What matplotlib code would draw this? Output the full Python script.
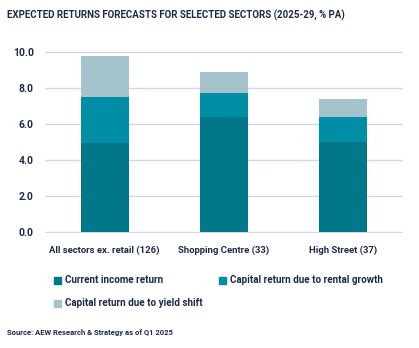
import matplotlib
matplotlib.use("Agg")
import numpy as np
from matplotlib import pyplot as plt

# expected returns by sector, % pa
sectors = ["All sectors ex. retail (126)", "Shopping Centre (33)", "High Street (37)"]
income = [4.95, 6.4, 5.0]
rental = [2.55, 1.3, 1.4]
yield_shift = [2.3, 1.2, 1.0]
series_names = ["Current income return", "Capital return due to rental growth",
                "Capital return due to yield shift"]
yticks = [0, 2, 4, 6, 8, 10]

navy = "#1d2a48"
colors = ["#00788a", "#008da6", "#a5c3cd"]

plt.rcParams['font.family'] = ['Roboto', 'DejaVu Sans']

fig = plt.figure(figsize=(4.19, 3.48), dpi=100)
ax = fig.add_axes([45 / 419, 1 - 233 / 348, 358 / 419, 182 / 348])

x = np.arange(len(sectors))
bottom2 = np.array(income) + np.array(rental)
ax.bar(x, income, width=0.4, color=colors[0], zorder=3)
ax.bar(x, rental, width=0.4, bottom=income, color=colors[1], zorder=3)
ax.bar(x, yield_shift, width=0.4, bottom=bottom2, color=colors[2], zorder=3)

ax.set_xlim(-0.5, 2.5)
ax.set_yticks(yticks)
ax.set_yticklabels([f"{v:.1f}" for v in yticks], fontsize=7.5, fontweight='bold', color=navy)
ax.set_xticks(x)
ax.set_xticklabels(sectors, fontsize=6.8, fontweight='bold', color=navy)
ax.tick_params(axis='y', length=0, pad=8)
ax.tick_params(axis='x', length=0, pad=9)
ax.yaxis.grid(True, color="#d3d6ec", linewidth=1, zorder=0)
ax.set_axisbelow(True)
ax.set_ylim(-0.05, 10.05)
for s in ax.spines.values():
    s.set_visible(False)

fig.text(7 / 419, 1 - 15 / 348, "EXPECTED RETURNS FORECASTS FOR SELECTED SECTORS (2025-29, % PA)",
         fontsize=7, fontweight='bold', color=navy, va='center')

# legend entries laid out in two columns
legend_pos = [(54, 280), (219, 280), (54, 303)]
for (lx, ly), name, c in zip(legend_pos, series_names, colors):
    fig.patches.append(plt.Rectangle(
        (lx / 419, 1 - (ly + 3.5) / 348), 7 / 419, 7 / 348,
        transform=fig.transFigure, color=c, figure=fig))
    fig.text((lx + 11) / 419, 1 - ly / 348, name, fontsize=7.1, color=navy,
             va='center', fontweight='bold')

fig.text(7 / 419, 1 - 332 / 348, "Source: AEW Research & Strategy as of Q1 2025",
         fontsize=5.5, color=navy, va='center', fontweight='bold')

plt.savefig("out.png", dpi=100)
